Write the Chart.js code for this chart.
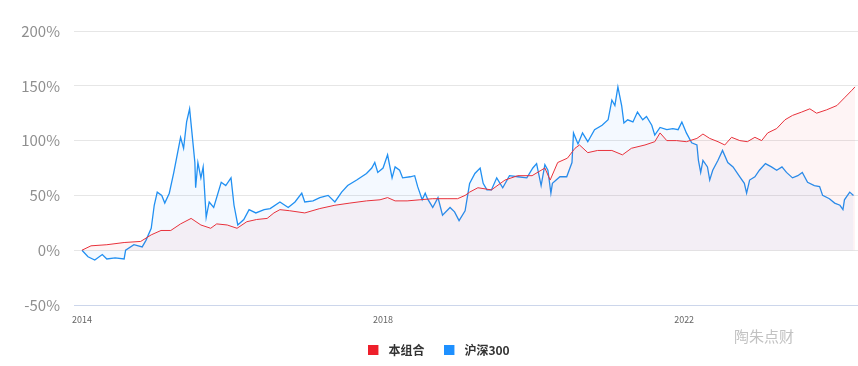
<!DOCTYPE html>
<html><head><meta charset="utf-8">
<script src="https://cdn.jsdelivr.net/npm/chart.js@4/dist/chart.umd.min.js"></script>
<style>html,body{margin:0;padding:0;background:#fff;}#wrap{width:858px;height:366px;position:relative;}</style>
</head><body><div id="wrap"><canvas id="c" width="858" height="366"></canvas></div>
<script>
const seriesNames = ['本组合', '沪深300'];
const watermarkText = '陶朱点财';

const redDates = [
  2014.00,2014.12,2014.33,2014.56,2014.78,2014.92,2015.05,2015.18,2015.31,2015.45,
  2015.58,2015.71,2015.79,2015.93,2016.06,2016.19,2016.32,2016.46,2016.55,2016.63,
  2016.76,2016.96,2017.16,2017.36,2017.56,2017.78,2017.96,2018.06,2018.16,2018.32,
  2018.49,2018.66,2018.85,2018.99,2019.09,2019.15,2019.26,2019.44,2019.62,2019.79,
  2019.98,2020.15,2020.22,2020.32,2020.45,2020.55,2020.61,2020.72,2020.85,2021.04,
  2021.18,2021.30,2021.48,2021.61,2021.68,2021.77,2021.90,2022.03,2022.17,2022.25,
  2022.34,2022.45,2022.54,2022.63,2022.74,2022.84,2022.94,2023.03,2023.11,2023.23,
  2023.34,2023.44,2023.56,2023.67,2023.76,2023.89,2024.03,2024.13,2024.23,2024.27
];
const redValues = [
  0,4,5,7,8,14,18,18,24,29,
  23,20,24,23,20,26,28,29,34,37,
  36,34,38,41,43,45,46,48,45,45,
  46,47,47,47,50,53,57,55,64,68,
  68,75,64,80,84,93,96,89,91,91,
  87,93,96,99,107,100,100,99,102,106,
  102,99,96,103,100,99,103,100,107,111,
  119,123,126,129,125,128,132,139,146,149
];

const blueDates = [
  2014.00,2014.08,2014.17,2014.27,2014.33,2014.44,2014.56,2014.58,2014.69,2014.80,
  2014.85,2014.92,2014.96,2015.00,2015.06,2015.10,2015.16,2015.22,2015.31,2015.35,
  2015.39,2015.43,2015.46,2015.50,2015.51,2015.54,2015.58,2015.61,2015.65,2015.69,
  2015.75,2015.85,2015.91,2015.98,2016.02,2016.07,2016.15,2016.22,2016.31,2016.42,
  2016.50,2016.63,2016.74,2016.83,2016.92,2016.96,2017.07,2017.16,2017.27,2017.36,
  2017.45,2017.53,2017.65,2017.78,2017.85,2017.89,2017.93,2018.00,2018.06,2018.12,
  2018.16,2018.22,2018.26,2018.36,2018.42,2018.46,2018.52,2018.56,2018.59,2018.66,
  2018.73,2018.79,2018.89,2018.95,2019.01,2019.09,2019.15,2019.22,2019.29,2019.33,
  2019.38,2019.44,2019.51,2019.59,2019.68,2019.79,2019.91,2019.99,2020.04,2020.10,
  2020.15,2020.19,2020.23,2020.25,2020.35,2020.44,2020.51,2020.53,2020.59,2020.65,
  2020.72,2020.81,2020.91,2020.99,2021.04,2021.08,2021.12,2021.17,2021.20,2021.25,
  2021.32,2021.38,2021.45,2021.50,2021.57,2021.61,2021.68,2021.77,2021.85,2021.92,
  2021.97,2022.03,2022.10,2022.17,2022.19,2022.22,2022.25,2022.31,2022.34,2022.38,
  2022.45,2022.51,2022.58,2022.65,2022.74,2022.80,2022.83,2022.87,2022.94,2023.00,
  2023.08,2023.16,2023.23,2023.30,2023.36,2023.44,2023.51,2023.57,2023.64,2023.73,
  2023.80,2023.84,2023.93,2024.00,2024.07,2024.11,2024.13,2024.20,2024.25
];
const blueValues = [
  0,-6,-9,-4,-8,-7,-8,0,5,3,
  9,20,41,53,50,43,52,71,103,93,
  117,129,108,80,57,80,66,76,30,44,
  39,62,59,66,41,23,28,37,34,37,
  38,44,39,44,52,44,45,48,50,44,
  53,59,64,70,75,80,71,75,87,66,
  76,73,66,67,68,58,46,52,47,39,
  48,32,39,35,27,36,61,70,75,61,
  55,55,66,57,68,67,66,75,79,59,
  78,73,52,61,67,67,80,107,97,107,
  99,110,114,119,137,132,149,132,116,119,
  117,126,119,122,114,105,112,110,111,110,
  117,107,98,96,82,71,82,76,64,73,
  82,91,80,76,67,61,52,64,67,73,
  79,76,73,76,71,66,68,71,62,59,
  58,50,47,43,41,37,46,53,50
];

const xTickYears = [2014, 2018, 2022];
const yTickValues = [-50, 0, 50, 100, 150, 200];
const seriesColors = ['#ee1f2b', '#1e90ff'];

const toPoints = (xs, ys) => xs.map((x, i) => ({ x: x, y: ys[i] }));

function legendMarker(color) {
  const c = document.createElement('canvas');
  c.width = 14; c.height = 10;
  const g = c.getContext('2d');
  g.fillStyle = color;
  g.fillRect(0, 0, 10, 10);
  return c;
}

const watermark = {
  id: 'watermark',
  afterDraw(chart) {
    const ctx = chart.ctx;
    ctx.save();
    ctx.font = '15px "Noto Sans CJK SC"';
    ctx.fillStyle = '#c2c2c2';
    ctx.textAlign = 'center';
    ctx.textBaseline = 'middle';
    ctx.fillText(watermarkText, 764, 336);
    ctx.restore();
  }
};

new Chart(document.getElementById('c'), {
  type: 'line',
  data: {
    datasets: [
      {
        label: seriesNames[0],
        data: toPoints(redDates, redValues),
        borderColor: '#e8313b',
        backgroundColor: seriesColors[0],
        borderWidth: 1,
        pointRadius: 0,
        tension: 0,
        fill: { target: 'origin', above: 'rgba(240,40,50,0.05)', below: 'rgba(240,40,50,0.05)' }
      },
      {
        label: seriesNames[1],
        data: toPoints(blueDates, blueValues),
        borderColor: '#2190f2',
        backgroundColor: seriesColors[1],
        borderWidth: 1.3,
        pointRadius: 0,
        tension: 0,
        fill: { target: 'origin', above: 'rgba(30,144,255,0.05)', below: 'rgba(30,144,255,0.05)' }
      }
    ]
  },
  options: {
    responsive: false,
    animation: false,
    devicePixelRatio: 1,
    layout: { padding: { left: 20, right: 0, top: 31, bottom: 0 } },
    plugins: {
      legend: {
        position: 'bottom',
        labels: {
          usePointStyle: true,
          pointStyleWidth: 14,
          boxWidth: 14,
          boxHeight: 10,
          padding: 20,
          color: '#333',
          font: { family: '"Noto Sans CJK SC"', size: 12, weight: 'bold' },
          generateLabels(chart) {
            return chart.data.datasets.map((ds, i) => ({
              text: ds.label,
              fillStyle: ds.backgroundColor,
              strokeStyle: ds.backgroundColor,
              lineWidth: 0,
              pointStyle: legendMarker(seriesColors[i]),
              hidden: false,
              datasetIndex: i,
              fontColor: '#333'
            }));
          }
        }
      },
      tooltip: { enabled: false }
    },
    scales: {
      x: {
        type: 'linear',
        min: 2013.894,
        max: 2024.31,
        afterBuildTicks(scale) { scale.ticks = xTickYears.map(v => ({ value: v })); },
        afterFit(scale) { scale.height = 19; },
        grid: { display: false, drawTicks: false },
        border: { display: true, color: '#ccd6eb', width: 1 },
        ticks: {
          padding: 9,
          maxRotation: 0,
          autoSkip: false,
          color: '#666',
          font: { family: '"Noto Sans CJK SC"', size: 9 },
          callback: v => String(v)
        }
      },
      y: {
        min: -50,
        max: 200,
        afterBuildTicks(scale) { scale.ticks = yTickValues.map(v => ({ value: v })); },
        afterFit(scale) { scale.width = 54; },
        grid: {
          drawTicks: false,
          color: ctx => (ctx.tick && ctx.tick.value === -50) ? '#ccd6eb' : '#e6e6e6',
          lineWidth: 1
        },
        border: { display: false },
        ticks: {
          padding: 14,
          color: '#8f8f8f',
          font: { family: '"Noto Sans CJK SC"', size: 15 },
          callback: v => v + '%'
        }
      }
    }
  },
  plugins: [watermark]
});
</script>
</body></html>
